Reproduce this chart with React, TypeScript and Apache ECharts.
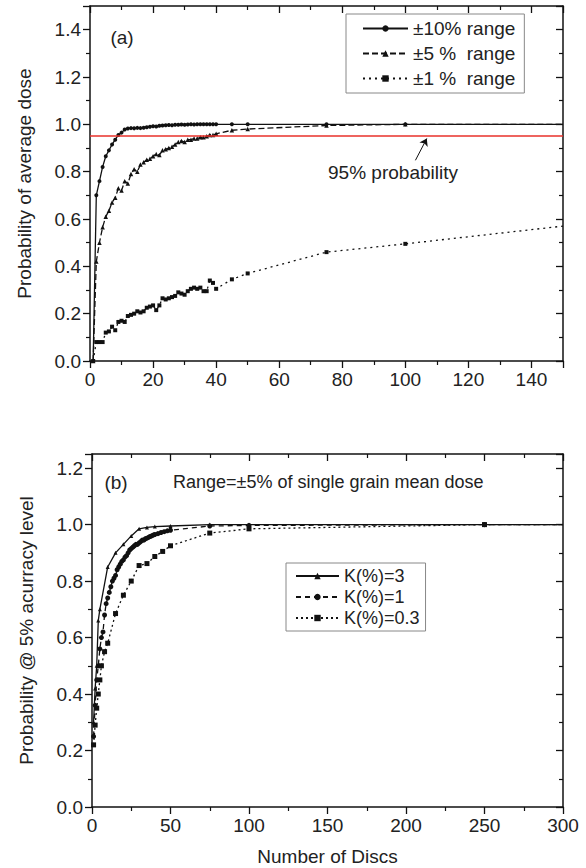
import React, { useEffect, useRef } from 'react';
import * as echarts from 'echarts';

const FONT = '"Liberation Sans", Arial, Helvetica, sans-serif';
const INK = '#111';
const TXT = '#222';

// ---- Panel (a) ----
const discsA = [1, 2, 3, 4, 5, 6, 7, 8, 9, 10, 11, 12, 13, 14, 15, 16, 17, 18, 19, 20,
  21, 22, 23, 24, 25, 26, 27, 28, 29, 30, 31, 32, 33, 34, 35, 36, 37, 38, 39, 40, 45, 50, 75, 100, 150];
const range10 = [0, 0.70, 0.76, 0.82, 0.865, 0.89, 0.915, 0.935, 0.955, 0.965, 0.978, 0.982, 0.984, 0.983, 0.985,
  0.984, 0.986, 0.988, 0.99, 0.992, 0.991, 0.994, 0.995, 0.996, 0.997, 0.996, 0.998, 0.998, 0.999, 0.998,
  0.999, 1.0, 0.999, 1.0, 1.0, 1.0, 1.0, 1.0, 1.0, 1.0, 1.0, 1.0, 1.0, 1.0, 1.0];
const range5 = [0, 0.42, 0.50, 0.565, 0.61, 0.635, 0.67, 0.69, 0.73, 0.72, 0.76, 0.75, 0.79, 0.81, 0.80,
  0.83, 0.84, 0.85, 0.855, 0.865, 0.875, 0.87, 0.89, 0.895, 0.90, 0.905, 0.915, 0.925, 0.93, 0.925,
  0.935, 0.935, 0.94, 0.94, 0.945, 0.945, 0.95, 0.955, 0.955, 0.96, 0.975, 0.98, 0.995, 1.0, 1.0];
const range1 = [0, 0.08, 0.08, 0.08, 0.12, 0.125, 0.145, 0.13, 0.165, 0.17, 0.165, 0.19, 0.195, 0.20, 0.21,
  0.205, 0.21, 0.225, 0.23, 0.235, 0.215, 0.235, 0.265, 0.26, 0.265, 0.27, 0.275, 0.29, 0.285, 0.28,
  0.295, 0.305, 0.31, 0.305, 0.31, 0.295, 0.295, 0.34, 0.33, 0.305, 0.345, 0.37, 0.46, 0.495, 0.57];
const namesA = ['\u00b110% range', '\u00b15 %  range', '\u00b11 %  range'];
const threshold = 0.95;

// ---- Panel (b) ----
const discsK3 = [1, 2, 3, 4, 5, 10, 15, 20, 25, 30, 35, 40, 50, 75, 100, 250, 300];
const k3Vals = [0.30, 0.42, 0.50, 0.66, 0.70, 0.85, 0.90, 0.93, 0.96, 0.985, 0.99, 0.993, 0.995, 1.0, 1.0, 1.0, 1.0];
const discsK1 = [1, 2, 3, 4, 5, 6, 7, 8, 9, 10, 11, 12, 13, 14, 15, 16, 17, 18, 19, 20,
  21, 22, 23, 24, 25, 26, 27, 28, 29, 30, 31, 32, 33, 34, 35, 36, 37, 38, 39, 40, 42, 44, 46, 48, 50, 75, 100, 250, 300];
const k1Vals = [0.25, 0.36, 0.45, 0.50, 0.56, 0.60, 0.62, 0.68, 0.72, 0.74, 0.76, 0.78, 0.80, 0.81, 0.82,
  0.84, 0.85, 0.86, 0.87, 0.875, 0.885, 0.89, 0.90, 0.91, 0.915, 0.92, 0.925, 0.93, 0.93, 0.935,
  0.94, 0.945, 0.945, 0.95, 0.952, 0.955, 0.958, 0.96, 0.963, 0.965, 0.968, 0.972, 0.975, 0.978, 0.98,
  0.995, 0.997, 1.0, 1.0];
const discsK03 = [1, 2, 3, 4, 5, 6, 8, 10, 15, 20, 25, 30, 35, 40, 45, 50, 75, 100, 250, 300];
const k03Vals = [0.22, 0.29, 0.35, 0.40, 0.45, 0.50, 0.55, 0.58, 0.685, 0.75, 0.80, 0.855, 0.862, 0.887,
  0.905, 0.925, 0.97, 0.985, 1.0, 1.0];
const namesB = ['K(%)=3', 'K(%)=1', 'K(%)=0.3'];

function pairs(xs: number[], ys: number[], edge: number) {
  return xs.map((x, i) => (x >= edge ? { value: [x, ys[i]], symbol: 'none' } : [x, ys[i]]));
}

function valueAxis(grid: number, min: number, max: number, interval: number, position: string, main: boolean, extra: any = {}) {
  return {
    type: 'value',
    gridIndex: grid,
    min,
    max,
    interval,
    position,
    axisLine: { show: true, onZero: false, lineStyle: { color: INK, width: 1.5 } },
    axisTick: { show: true, inside: !main, length: 7, lineStyle: { color: INK, width: 1.3 } },
    minorTick: { show: true, splitNumber: 2, length: 4, lineStyle: { color: INK, width: 1.2 } },
    splitLine: { show: false },
    minorSplitLine: { show: false },
    axisLabel: main
      ? { show: true, fontSize: 19, fontFamily: FONT, color: TXT, margin: 9, showMaxLabel: false, ...(extra.label || {}) }
      : { show: false },
    ...(extra.axis || {}),
  };
}

function lineSeries(name: string, data: any[], xi: number, yi: number, symbol: string, size: number, dash: any, extra: any = {}) {
  return {
    name,
    type: 'line',
    xAxisIndex: xi,
    yAxisIndex: yi,
    data,
    symbol,
    symbolSize: size,
    showAllSymbol: true,
    lineStyle: { color: INK, width: 1.3, type: dash },
    itemStyle: { color: INK },
    z: 3,
    ...extra,
  };
}

export default function App() {
  const ref = useRef<HTMLDivElement>(null);
  useEffect(() => {
    if (!ref.current) return;
    const chart = echarts.init(ref.current, undefined, { renderer: 'svg' });
    const fmt1 = (v: number) => v.toFixed(1);
    const option: any = {
      animation: false,
      backgroundColor: '#fff',
      textStyle: { fontFamily: FONT },
      grid: [
        { left: 90, top: 6, width: 473, height: 355 },
        { left: 92, top: 454, width: 471, height: 353 },
      ],
      xAxis: [
        valueAxis(0, 0, 150, 20, 'bottom', true),
        valueAxis(0, 0, 150, 20, 'top', false),
        valueAxis(1, 0, 300, 50, 'bottom', true, {
          label: { showMaxLabel: true },
          axis: {
            name: 'Number of Discs',
            nameLocation: 'middle',
            nameGap: 40,
            nameTextStyle: { fontSize: 19, fontFamily: FONT, color: TXT },
          },
        }),
        valueAxis(1, 0, 300, 50, 'top', false),
      ],
      yAxis: [
        valueAxis(0, 0, 1.5, 0.2, 'left', true, {
          label: { formatter: fmt1 },
          axis: {
            name: 'Probability of average dose',
            nameLocation: 'middle',
            nameGap: 56,
            nameTextStyle: { fontSize: 19, fontFamily: FONT, color: TXT },
          },
        }),
        valueAxis(0, 0, 1.5, 0.2, 'right', false),
        valueAxis(1, 0, 1.25, 0.2, 'left', true, {
          label: { formatter: fmt1 },
          axis: {
            name: 'Probability @ 5% acurracy level',
            nameLocation: 'middle',
            nameGap: 56,
            nameTextStyle: { fontSize: 19, fontFamily: FONT, color: TXT },
          },
        }),
        valueAxis(1, 0, 1.25, 0.2, 'right', false),
      ],
      legend: [
        {
          data: namesA,
          orient: 'vertical',
          left: 346,
          top: 14,
          itemWidth: 45,
          itemHeight: 8,
          itemGap: 6,
          padding: [5, 9, 5, 16],
          borderColor: '#888',
          borderWidth: 1,
          textStyle: { fontSize: 19, fontFamily: FONT, color: TXT },
        },
        {
          data: namesB,
          orient: 'vertical',
          left: 286,
          top: 563,
          itemWidth: 43,
          itemHeight: 8,
          itemGap: 3,
          padding: [4, 6, 4, 9],
          borderColor: '#888',
          borderWidth: 1,
          textStyle: { fontSize: 18, fontFamily: FONT, color: TXT },
        },
      ],
      series: [
        lineSeries(namesA[0], pairs(discsA, range10, 150), 0, 0, 'circle', 4, 'solid', {
          markLine: {
            silent: true,
            symbol: 'none',
            label: { show: false },
            animation: false,
            data: [
              { yAxis: threshold, lineStyle: { color: '#e8302a', width: 1.5, type: 'solid' } },
              [
                { coord: [103.2, 0.848], symbol: 'none', lineStyle: { color: INK, width: 1, type: 'solid' } },
                { coord: [106.8, 0.94], symbol: 'arrow', symbolSize: 7 },
              ],
            ],
          },
        }),
        lineSeries(namesA[1], pairs(discsA, range5, 150), 0, 0, 'triangle', 4.5, [6, 3]),
        lineSeries(namesA[2], pairs(discsA, range1, 150), 0, 0, 'rect', 4, [2, 4]),
        lineSeries(namesB[0], pairs(discsK3, k3Vals, 300), 2, 2, 'triangle', 4, 'solid'),
        lineSeries(namesB[1], pairs(discsK1, k1Vals, 300), 2, 2, 'circle', 5, [5, 4]),
        lineSeries(namesB[2], pairs(discsK03, k03Vals, 300), 2, 2, 'rect', 5, [2, 3]),
      ],
      graphic: [
        { type: 'text', x: 122, y: 37, style: { text: '(a)', font: `19px ${FONT}`, fill: TXT, align: 'center', verticalAlign: 'middle' } },
        { type: 'text', x: 393, y: 172, style: { text: '95% probability', font: `19px ${FONT}`, fill: TXT, align: 'center', verticalAlign: 'middle' } },
        { type: 'text', x: 116, y: 482, style: { text: '(b)', font: `19px ${FONT}`, fill: TXT, align: 'center', verticalAlign: 'middle' } },
        { type: 'text', x: 173, y: 482, style: { text: 'Range=\u00b15% of single grain mean dose', font: `18px ${FONT}`, fill: TXT, align: 'left', verticalAlign: 'middle' } },
      ],
    };
    chart.setOption(option);
    return () => chart.dispose();
  }, []);
  return (
    <div
      ref={ref}
      style={{ position: 'absolute', left: 0, top: 0, width: 586, height: 868, background: '#fff' }}
    />
  );
}
